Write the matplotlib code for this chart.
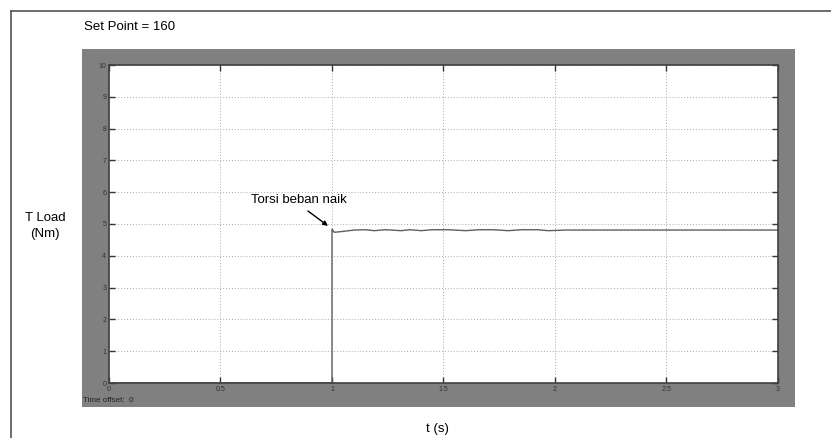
import matplotlib

matplotlib.use("Agg")
import matplotlib.pyplot as plt
from matplotlib.lines import Line2D
from matplotlib.patches import Rectangle

plt.rcParams["font.family"] = ["Liberation Sans", "DejaVu Sans"]

# torque response
t_vals = [0.0, 1.0, 1.0, 1.01, 1.04, 1.10, 1.15, 1.19, 1.24, 1.31, 1.35, 1.40,
          1.45, 1.52, 1.60, 1.66, 1.72, 1.79, 1.85, 1.92, 1.97, 2.05, 2.5, 3.0]
torque = [0.0, 0.0, 4.84, 4.74, 4.76, 4.81, 4.82, 4.79, 4.82, 4.79, 4.82, 4.79,
          4.82, 4.82, 4.79, 4.82, 4.82, 4.79, 4.82, 4.82, 4.79, 4.81, 4.81, 4.81]

x_ticks = [0, 0.5, 1, 1.5, 2, 2.5, 3]
x_labels = ["0", "0.5", "1", "1.5", "2", "2.5", "3"]
y_ticks = list(range(0, 11))

W, H = 831, 438
fig = plt.figure(figsize=(W / 100, H / 100), dpi=100)
fig.patch.set_facecolor("white")


def fx(px):
    return px / W


def fy(py):
    return 1 - py / H


# outer frame (top + left)
fig.add_artist(Line2D([fx(11), fx(11)], [fy(11), 0], color="#555555", lw=1.2))
fig.add_artist(Line2D([fx(11), 1], [fy(11), fy(11)], color="#555555", lw=1.2))

# gray scope panel
fig.add_artist(Rectangle((fx(82), fy(407)), fx(795) - fx(82), fy(49) - fy(407),
                         facecolor="#808080", edgecolor="none", zorder=0))

ax = fig.add_axes([fx(109), fy(383), fx(778) - fx(109), fy(65) - fy(383)])
ax.set_facecolor("white")
ax.plot(t_vals, torque, color="#5f5f5f", lw=1.0)
ax.set_xlim(0, 3)
ax.set_ylim(0, 10)
ax.set_xticks(x_ticks)
ax.set_xticklabels(x_labels)
ax.set_yticks(y_ticks)
ax.grid(True, linestyle=(0, (1, 2)), color="#aaaaaa", lw=0.7)
ax.tick_params(direction="in", length=4, width=1, colors="#333333",
               labelsize=5, top=True, right=True, pad=2)
for sp in ax.spines.values():
    sp.set_color("#404040")
    sp.set_linewidth(1.2)

ax.text(0.637, 5.75, "Torsi beban naik", fontsize=9.5, va="center", ha="left")
ax.annotate("", xy=(0.982, 4.94), xytext=(0.892, 5.41),
            arrowprops=dict(arrowstyle="-|>", color="black", lw=1, mutation_scale=7,
                            shrinkA=0, shrinkB=0))

fig.text(fx(84), fy(27), "Set Point = 160", fontsize=9.5, va="center", ha="left")
fig.text(fx(45), fy(226), "T Load\n(Nm)", fontsize=9.5, va="center", ha="center",
         linespacing=1.35)
fig.text(fx(437), fy(429), "t (s)", fontsize=9.5, va="center", ha="center")
fig.text(fx(83), fy(400), "Time offset:  0", fontsize=5.8, va="center", ha="left",
         color="#222222")

fig.savefig("out.png", dpi=100)
